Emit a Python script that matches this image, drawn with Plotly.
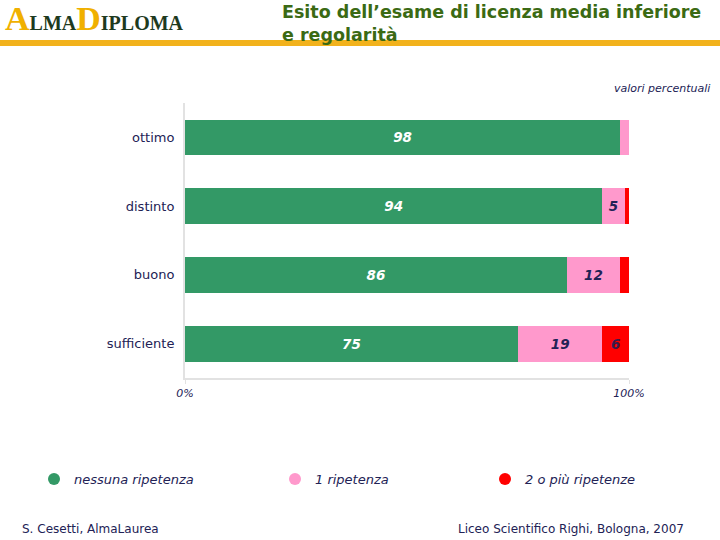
import plotly.graph_objects as go

categories = ["ottimo", "distinto", "buono", "sufficiente"]
series_names = ["nessuna ripetenza", "1 ripetenza", "2 o più ripetenze"]
nessuna = [98, 94, 86, 75]
una = [2, 5, 12, 19]
due_piu = [0, 1, 2, 6]
x_tick_vals = [0, 100]
x_tick_text = ["0%", "100%"]

colors = ["#339966", "#FF99CC", "#FF0000"]
label_colors = ["#FFFFFF", "#222255", "#3A1A4A"]
legend_ids = ["legend", "legend2", "legend3"]
legend_x_px = [34, 275, 485]
FONT = "DejaVu Sans"
NAVY = "#222255"

fig = go.Figure()
for name, vals, col, lcol, lid in zip(series_names, [nessuna, una, due_piu], colors, label_colors, legend_ids):
    fig.add_trace(go.Bar(
        y=categories, x=vals, orientation="h", name=name,
        marker=dict(color=col, line=dict(width=0)),
        text=[str(v) if v >= 5 else "" for v in vals],
        textposition="inside", insidetextanchor="middle",
        textfont=dict(family=FONT, size=13.5, color=lcol, weight="bold", style="italic"),
        textangle=0, constraintext="none",
        showlegend=False, hoverinfo="skip",
    ))
    fig.add_trace(go.Scatter(
        x=[None], y=[None], mode="markers", name=name,
        marker=dict(symbol="circle", size=12, color=col),
        showlegend=True, legend=lid,
    ))

legend_common = dict(
    orientation="h", xanchor="left", yanchor="middle", y=1 - 479 / 540,
    itemwidth=30,
    font=dict(family=FONT, size=13, color=NAVY, style="italic"),
    bgcolor="rgba(0,0,0,0)", borderwidth=0,
)

fig.update_layout(
    width=720, height=540,
    margin=dict(l=0, r=0, t=0, b=0, pad=0, autoexpand=False),
    paper_bgcolor="white", plot_bgcolor="white",
    barmode="stack", bargap=0.48,
    showlegend=True,
    legend=dict(x=legend_x_px[0] / 720, **legend_common),
    legend2=dict(x=legend_x_px[1] / 720, **legend_common),
    legend3=dict(x=legend_x_px[2] / 720, **legend_common),
    xaxis=dict(
        domain=[185 / 720, 629 / 720], range=[0, 100],
        tickvals=x_tick_vals, ticktext=x_tick_text,
        showgrid=False, zeroline=False, automargin=False,
        showline=True, linecolor="#E2E2E2", linewidth=2,
        ticks="outside", ticklen=4, tickcolor="#E2E2E2",
        tickfont=dict(family=FONT, size=11, color=NAVY, style="italic"),
        fixedrange=True,
    ),
    yaxis=dict(
        domain=[1 - 378 / 540, 1 - 103 / 540],
        categoryorder="array", categoryarray=categories[::-1],
        range=[-0.5, 3.5], automargin=False,
        showgrid=False, zeroline=False,
        showline=True, linecolor="#E2E2E2", linewidth=2,
        ticks="outside", ticklen=6, tickcolor="rgba(0,0,0,0)",
        tickfont=dict(family=FONT, size=13, color=NAVY),
        fixedrange=True,
    ),
)

# Header bar
fig.add_shape(type="rect", xref="paper", yref="paper",
              x0=0, x1=1, y0=1 - 46 / 540, y1=1 - 40 / 540,
              fillcolor="#F2B21C", line=dict(width=0), layer="below")

# Logo
fig.add_annotation(
    xref="paper", yref="paper", x=3 / 720, y=1 - 39 / 540,
    xanchor="left", yanchor="bottom", showarrow=False,
    text=("<span style='font-size:34px;color:#F0B000'>A</span>"
          "<span style='font-size:20px;color:#1E3A1E'>LMA</span>"
          "<span style='font-size:34px;color:#F0B000'>D</span>"
          "<span style='font-size:20px;color:#1E3A1E'>IPLOMA</span>"),
    font=dict(family="Liberation Serif", size=20, weight="bold"),
)

# Title
fig.add_annotation(
    xref="paper", yref="paper", x=280 / 720, y=1 - 0 / 540,
    xanchor="left", yanchor="top", showarrow=False, align="left",
    text="Esito dell’esame di licenza media inferiore<br>e regolarità",
    font=dict(family=FONT, size=17.5, color="#3B6A14", weight="bold"),
)

fig.add_annotation(
    xref="paper", yref="paper", x=712 / 720, y=1 - 88 / 540,
    xanchor="right", yanchor="middle", showarrow=False,
    text="valori percentuali",
    font=dict(family=FONT, size=11, color=NAVY, style="italic"),
)

fig.add_annotation(
    xref="paper", yref="paper", x=20 / 720, y=1 - 529 / 540,
    xanchor="left", yanchor="middle", showarrow=False,
    text="S. Cesetti, AlmaLaurea",
    font=dict(family=FONT, size=12, color=NAVY),
)
fig.add_annotation(
    xref="paper", yref="paper", x=686 / 720, y=1 - 529 / 540,
    xanchor="right", yanchor="middle", showarrow=False,
    text="Liceo Scientifico Righi, Bologna, 2007",
    font=dict(family=FONT, size=12, color=NAVY),
)

fig.write_html("out.html", config={"responsive": False, "displayModeBar": False},
               default_width="720px", default_height="540px")

with open("out.html", "r", encoding="utf-8") as f:
    html = f.read()
html = html.replace("<head>", "<head><style>html,body{margin:0;padding:0;overflow:hidden;}</style>", 1)
with open("out.html", "w", encoding="utf-8") as f:
    f.write(html)
